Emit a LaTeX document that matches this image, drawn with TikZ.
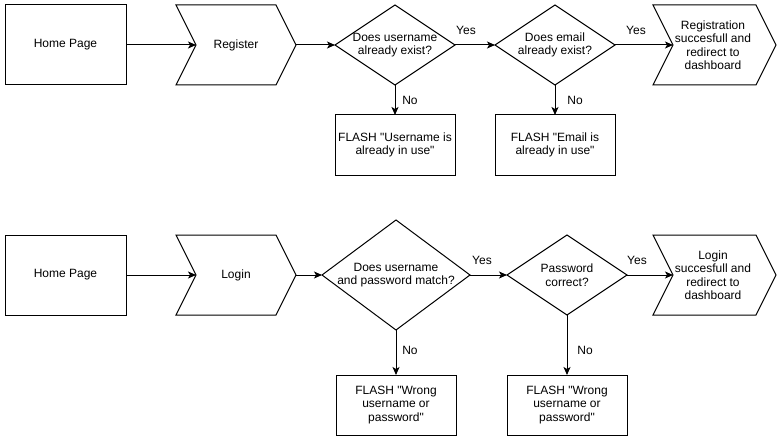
\documentclass[tikz,border=0pt]{standalone}
\usepackage{fontspec}
\setmainfont{Liberation Sans}[Ligatures=TeXOff]
\usetikzlibrary{arrows.meta,shapes.geometric,calc}
\begin{document}
\begin{tikzpicture}[x=1pt,y=-1pt,line width=1pt,
  every node/.style={font=\fontsize{12}{13.5}\selectfont,inner sep=0pt,outer sep=0pt},
  boxnode/.style={draw,rectangle,minimum width=#1,minimum height=80pt,align=center},
  flashbox/.style={draw,rectangle,minimum width=120pt,minimum height=60pt,align=center},
  chev/.style={rectangle,minimum width=#1,minimum height=80pt},
  dia/.style 2 args={draw,diamond,minimum width=#1,minimum height=#2},
  txt/.style={align=center},
  conn/.style={-{Stealth[length=8pt,width=7pt,inset=2pt]}},
  lbl/.style={}]
\useasboundingbox (0,0) rectangle (779,441);
\newcommand{\chevpath}[1]{%
  \draw (#1.north west) -- ($(#1.north east)+(-20,0)$) -- (#1.east) -- ($(#1.south east)+(-20,0)$) -- (#1.south west) -- ($(#1.west)+(20,0)$) -- cycle;}
% ---------- top row ----------
\node[boxnode=121pt] (hp1) at (65.5,45) {Home Page};
\node[chev=120pt] (reg) at (236,45) {};
\chevpath{reg}
\coordinate (regin) at ($(reg.west)+(20,0)$);
\node[txt] (regt) at (reg) {Register};
\node[dia={120pt}{80pt}] (d1) at (395,45) {};
\node[txt] (d1t) at (d1) {Does username\\already exist?};
\node[dia={120pt}{80pt}] (d2) at (555,45) {};
\node[txt] (d2t) at (d2) {Does email\\already exist?};
\node[chev=123pt] (ok1) at (714.5,45) {};
\chevpath{ok1}
\coordinate (ok1in) at ($(ok1.west)+(20,0)$);
\node[txt] (ok1t) at (713,45) {Registration\\succesfull and\\redirect to\\dashboard};
\node[flashbox] (f1) at (395,145) {FLASH "Username is\\already in use"};
\node[flashbox] (f2) at (555,145) {FLASH "Email is\\already in use"};
\draw[conn] (hp1.east) -- (regin);
\draw[conn] (reg.east) -- (d1.west);
\draw[conn] (d1.east) -- (d2.west);
\draw[conn] (d2.east) -- (ok1in);
\draw[conn] (d1.south) -- (f1.north);
\draw[conn] (d2.south) -- (f2.north);
\node[lbl] (y1) at (466,30) {Yes};
\node[lbl] (y2) at (636,30) {Yes};
\node[lbl] (n1) at (410,100) {No};
\node[lbl] (n2) at (575,100) {No};
% ---------- bottom row ----------
\node[boxnode=121pt] (hp2) at (65.5,275) {Home Page};
\node[chev=120pt] (log) at (236,275) {};
\chevpath{log}
\coordinate (login) at ($(log.west)+(20,0)$);
\node[txt] (logt) at (log) {Login};
\node[dia={148pt}{110pt}] (d3) at (396,275) {};
\node[txt] (d3t) at (d3) {Does username\\and password match?};
\node[dia={120pt}{80pt}] (d4) at (567,275) {};
\node[txt] (d4t) at (d4) {Password\\correct?};
\node[chev=123pt] (ok2) at (714.5,275) {};
\chevpath{ok2}
\coordinate (ok2in) at ($(ok2.west)+(20,0)$);
\node[txt] (ok2t) at (713,275) {Login\\succesfull and\\redirect to\\dashboard};
\node[flashbox] (f3) at (396,405) {FLASH "Wrong\\username or\\password"};
\node[flashbox] (f4) at (567,405) {FLASH "Wrong\\username or\\password"};
\draw[conn] (hp2.east) -- (login);
\draw[conn] (log.east) -- (d3.west);
\draw[conn] (d3.east) -- (d4.west);
\draw[conn] (d4.east) -- (ok2in);
\draw[conn] (d3.south) -- (f3.north);
\draw[conn] (d4.south) -- (f4.north);
\node[lbl] (y3) at (482,260) {Yes};
\node[lbl] (y4) at (637,260) {Yes};
\node[lbl] (n3) at (410,350) {No};
\node[lbl] (n4) at (585,350) {No};
\end{tikzpicture}
\end{document}
